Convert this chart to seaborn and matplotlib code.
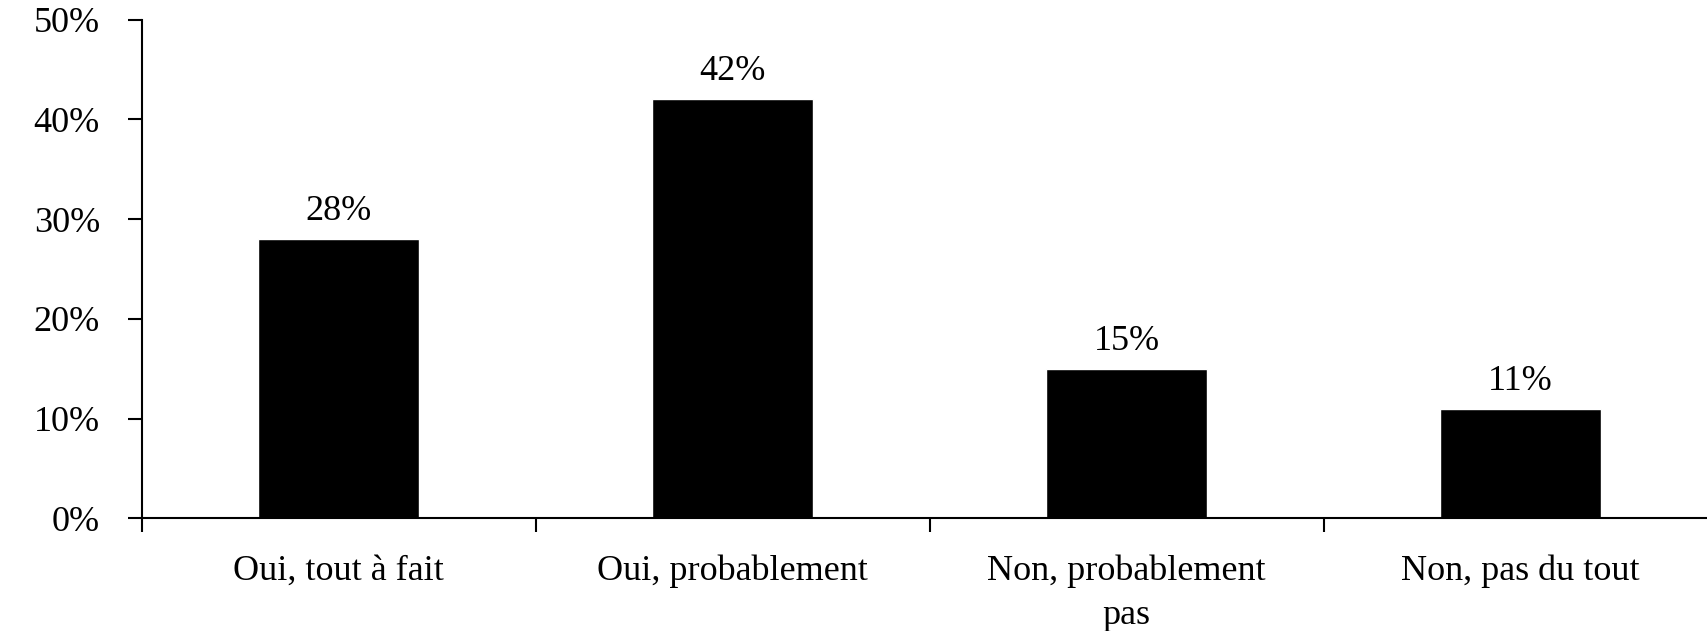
import matplotlib
matplotlib.use("Agg")
import matplotlib.pyplot as plt
import seaborn as sns
import pandas as pd
from matplotlib.ticker import FixedLocator

# survey answers and their share of respondents (%)
categories = ["Oui, tout à fait", "Oui, probablement", "Non, probablement\npas", "Non, pas du tout"]
shares = [28, 42, 15, 11]
y_ticks = [0, 10, 20, 30, 40, 50]

df = pd.DataFrame({"reponse": categories, "part": shares})

sns.set_style("ticks")
plt.rcParams["font.family"] = ["Liberation Serif", "DejaVu Serif"]
plt.rcParams["font.size"] = 26
plt.rcParams["text.color"] = "black"

fig = plt.figure(figsize=(17.08, 6.31), dpi=100)
ax = fig.add_axes([0.0829, 0.1783, 0.9227, 0.7907])

sns.barplot(data=df, x="reponse", y="part", color="black", width=0.41,
            saturation=1, ax=ax)

ax.bar_label(ax.containers[0], fmt="%d%%", padding=8, fontsize=26, color="black")

ax.set_xlim(-0.5, len(categories) - 0.5)
ax.set_ylim(0, 50)
ax.set_yticks(y_ticks)
ax.set_yticklabels([f"{t}%" for t in y_ticks])
ax.set_xlabel("")
ax.set_ylabel("")

# category boundaries get the visible ticks, labels sit in between
ax.xaxis.set_minor_locator(FixedLocator([i - 0.5 for i in range(len(categories) + 1)]))
ax.tick_params(axis="x", which="major", length=0, pad=26, labelsize=26, labelcolor="black")
ax.tick_params(axis="x", which="minor", length=10, width=1.5, color="black", direction="out")
ax.tick_params(axis="y", length=10, width=1.5, pad=20, labelsize=26, color="black",
               labelcolor="black", direction="out")
for lbl in ax.get_xticklabels():
    lbl.set_linespacing(1.45)

for side in ["top", "right"]:
    ax.spines[side].set_visible(False)
for side in ["left", "bottom"]:
    ax.spines[side].set_linewidth(1.5)
    ax.spines[side].set_color("black")

fig.savefig("out.png", dpi=100)
